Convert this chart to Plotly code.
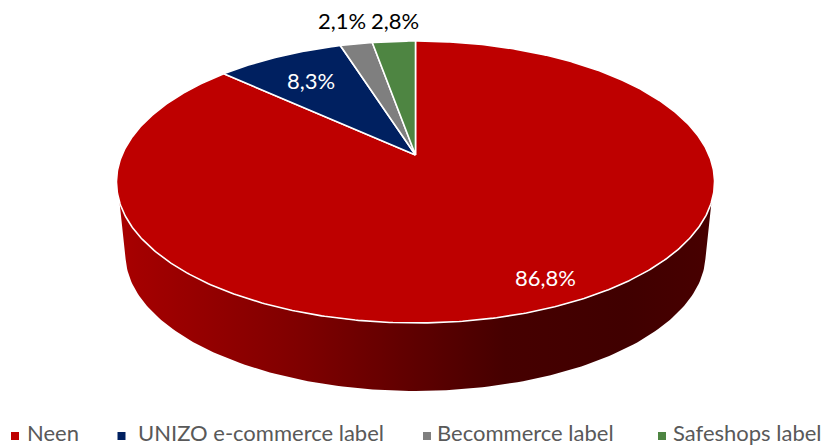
import numpy as np
import plotly.graph_objects as go

# Share of web shops per quality label, clockwise from twelve o'clock
categories = ["Neen", "UNIZO e-commerce label", "Becommerce label", "Safeshops label"]
shares = [86.8, 8.3, 2.1, 2.8]
slice_colors = ["#BE0000", "#002060", "#7F7F7F", "#4E8542"]

WIDTH, HEIGHT = 825, 447
FONT = "Lato"

# Tilted-disc projection, in pixels of the plot area
CX, CY = 415.5, 155.0     # where the pie centre lands
C_X, C_Y = 293.5, 135.8   # horizontal and vertical radius factors
TILT = 0.1915             # foreshortening towards the back edge
FLOOR_SCALE = 0.97        # the lower rim is slightly further away
FLOOR_CY = 228.0


def project(theta_deg, scale=1.0, cy=CY):
    t = np.radians(theta_deg)
    d = 1 + TILT * np.cos(t)
    return CX + scale * C_X * np.sin(t) / d, cy - scale * C_Y * np.cos(t) / d


fig = go.Figure()

# Side wall, shaded from left to right
top_x, top_y = project(np.arange(109, 251.5, 1.0))
low_x, low_y = project(np.arange(257, 102.5, -1.0), FLOOR_SCALE, FLOOR_CY)
fig.add_trace(go.Scatter(
    x=np.r_[top_x, low_x], y=np.r_[top_y, low_y],
    mode="lines", line=dict(width=0), fill="toself",
    fillgradient=dict(
        type="horizontal", start=117, stop=714,
        colorscale=[[0, "#A80000"], [0.3, "#800000"], [0.5, "#5E0000"],
                    [0.65, "#460000"], [0.85, "#400000"], [1, "#480000"]],
    ),
    hoverinfo="skip", showlegend=False,
))

# Top face, one wedge per category
fractions = np.array(shares) / sum(shares)
edges = np.r_[0, np.cumsum(fractions)] * 360
for name, color, a, b in zip(categories, slice_colors, edges[:-1], edges[1:]):
    rx, ry = project(np.linspace(a, b, max(int(b - a) * 2, 4)))
    fig.add_trace(go.Scatter(
        x=np.r_[CX, rx, CX], y=np.r_[CY, ry, CY],
        mode="lines", line=dict(color="white", width=1.6),
        fill="toself", fillcolor=color,
        name=name, hoverinfo="name", showlegend=False,
    ))

# Percentage labels, decimal comma
label_pos = [(545, 277), (311, 80), (342, 20), (395, 20)]
label_colors = ["white", "white", "black", "black"]
annotations = []
for v, (px, py), c in zip(shares, label_pos, label_colors):
    annotations.append(dict(
        x=px, y=py, xref="x", yref="y", showarrow=False,
        text=f"{v:.1f}%".replace(".", ","),
        font=dict(family=FONT, size=22, color=c),
    ))

# Legend row along the bottom
swatch_x = [15, 121.5, 427, 662]
text_x = [25, 136, 435, 671]
SWATCH_Y, TEXT_Y = 436, 432.5
fig.add_trace(go.Scatter(
    x=swatch_x, y=[SWATCH_Y] * 4, mode="markers",
    marker=dict(symbol="square", size=8, color=slice_colors),
    hoverinfo="skip", showlegend=False,
))
for name, tx in zip(categories, text_x):
    annotations.append(dict(
        x=tx, y=TEXT_Y, xref="x", yref="y", showarrow=False, xanchor="left",
        text=name, font=dict(family=FONT, size=22, color="#595959"),
    ))

fig.update_layout(
    width=WIDTH, height=HEIGHT, autosize=False,
    margin=dict(l=0, r=0, t=0, b=0),
    paper_bgcolor="white", plot_bgcolor="white",
    xaxis=dict(range=[0, WIDTH], visible=False, fixedrange=True),
    yaxis=dict(range=[HEIGHT, 0], visible=False, fixedrange=True),
    annotations=annotations,
)
fig.write_html("out.html")
